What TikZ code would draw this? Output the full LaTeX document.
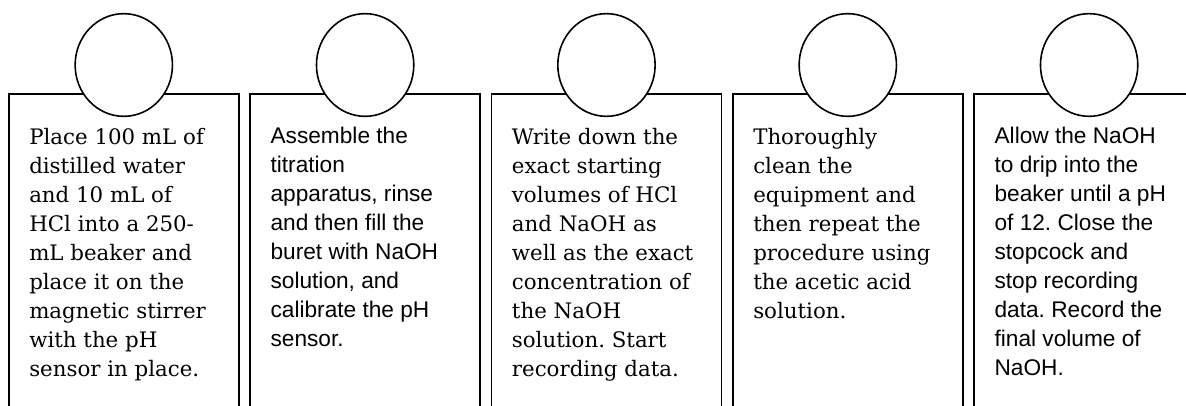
\documentclass[tikz,border=0pt]{standalone}
\usepackage{fontspec}
\usepackage{tikz}
\usetikzlibrary{positioning,shapes.geometric}
\newfontfamily\stepserif{DejaVu Serif}
\newfontfamily\stepsans{Liberation Sans}
\definecolor{stepline}{HTML}{000000}
\frenchspacing
\tikzset{
  stepbox/.style={
    draw=stepline,
    line width=1.2pt,
    minimum width=172.5pt,
    minimum height=250pt,
    inner sep=0pt
  },
  stepcircle/.style={
    ellipse,
    draw=stepline,
    fill=white,
    line width=1.2pt,
    minimum width=73pt,
    minimum height=77pt,
    inner sep=0pt
  },
  steptext/.style={
    anchor=north west,
    inner sep=0pt,
    align=left
  },
  serifstep/.style={
    steptext,
    font={\stepserif\fontsize{16pt}{21.75pt}\selectfont}
  },
  sansstep/.style={
    steptext,
    font={\stepsans\fontsize{17pt}{21.75pt}\selectfont}
  }
}
\begin{document}
\begin{tikzpicture}[node distance=7.3pt]
\useasboundingbox (0,0) rectangle (889.5pt,-304.5pt);
\clip (0,0) rectangle (889.5pt,-304.5pt);
% five step boxes
\node[stepbox, anchor=north west] (box1) at (6pt,-69.75pt) {};
\node[stepbox, right=of box1] (box2) {};
\node[stepbox, right=of box2] (box3) {};
\node[stepbox, right=of box3] (box4) {};
\node[stepbox, right=of box4] (box5) {};
% circles over the box tops
\node[stepcircle] (circ1) at ([yshift=21pt]box1.north) {};
\node[stepcircle] (circ2) at ([yshift=21pt]box2.north) {};
\node[stepcircle] (circ3) at ([yshift=21pt]box3.north) {};
\node[stepcircle] (circ4) at ([yshift=21pt]box4.north) {};
\node[stepcircle] (circ5) at ([yshift=21pt]box5.north) {};
% step texts
\node[serifstep] (text1) at ([xshift=15.75pt,yshift=-26pt]box1.north west) {Place 100 mL of\\distilled water\\and 10 mL of\\HCl into a 250-\\mL beaker and\\place it on the\\magnetic stirrer\\with the pH\\sensor in place.};
\node[sansstep] (text2) at ([xshift=15.75pt,yshift=-25.5pt]box2.north west) {Assemble the\\titration\\apparatus, rinse\\and then fill the\\buret with NaOH\\solution, and\\calibrate the pH\\sensor.};
\node[serifstep] (text3) at ([xshift=15.75pt,yshift=-26pt]box3.north west) {Write down the\\exact starting\\volumes of HCl\\and NaOH as\\well as the exact\\concentration of\\the NaOH\\solution. Start\\recording data.};
\node[serifstep] (text4) at ([xshift=15.75pt,yshift=-26pt]box4.north west) {Thoroughly\\clean the\\equipment and\\then repeat the\\procedure using\\the acetic acid\\solution.};
\node[sansstep] (text5) at ([xshift=15.75pt,yshift=-25.5pt]box5.north west) {Allow the NaOH\\to drip into the\\beaker until a pH\\of 12. Close the\\stopcock and\\stop recording\\data. Record the\\final volume of\\NaOH.};
\end{tikzpicture}
\end{document}
